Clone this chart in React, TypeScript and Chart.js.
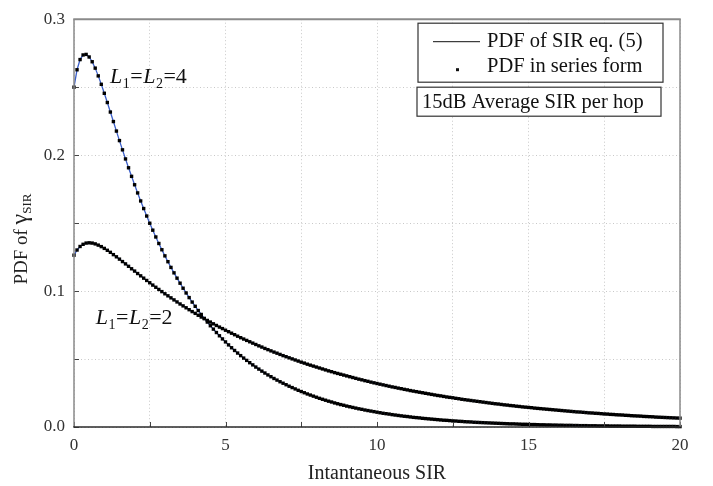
import React, { useEffect, useRef } from "react";
import { Chart, registerables } from "chart.js";

Chart.register(...registerables);

// ---- data ----
const X_START = 0;
const X_STEP = 0.1;

// PDF for L1=L2=4, sampled at x = 0, 0.1, ..., 20
const PDF_L4 = [
  0.2500, 0.2628, 0.2703, 0.2737, 0.2741, 0.2722, 0.2687, 0.2640, 0.2583, 0.2521,
  0.2455, 0.2387, 0.2317, 0.2247, 0.2177, 0.2107, 0.2039, 0.1972, 0.1907, 0.1844,
  0.1782, 0.1722, 0.1663, 0.1607, 0.1552, 0.1499, 0.1448, 0.1398, 0.1350, 0.1304,
  0.1259, 0.1216, 0.1174, 0.1134, 0.1095, 0.1058, 0.1021, 0.0986, 0.0952, 0.0919,
  0.0888, 0.0857, 0.0828, 0.0799, 0.0772, 0.0745, 0.0720, 0.0695, 0.0671, 0.0648,
  0.0626, 0.0604, 0.0583, 0.0563, 0.0544, 0.0525, 0.0507, 0.0490, 0.0473, 0.0457,
  0.0441, 0.0426, 0.0411, 0.0397, 0.0383, 0.0370, 0.0357, 0.0345, 0.0333, 0.0322,
  0.0311, 0.0300, 0.0290, 0.0280, 0.0270, 0.0261, 0.0252, 0.0243, 0.0235, 0.0227,
  0.0219, 0.0211, 0.0204, 0.0197, 0.0190, 0.0184, 0.0177, 0.0171, 0.0165, 0.0160,
  0.0154, 0.0149, 0.0144, 0.0139, 0.0134, 0.0130, 0.0125, 0.0121, 0.0117, 0.0113,
  0.0109, 0.0105, 0.0101, 0.0098, 0.0095, 0.0091, 0.0088, 0.0085, 0.0082, 0.0079,
  0.0077, 0.0074, 0.0071, 0.0069, 0.0067, 0.0064, 0.0062, 0.0060, 0.0058, 0.0056,
  0.0054, 0.0052, 0.0050, 0.0049, 0.0047, 0.0045, 0.0044, 0.0042, 0.0041, 0.0039,
  0.0038, 0.0037, 0.0035, 0.0034, 0.0033, 0.0032, 0.0031, 0.0030, 0.0029, 0.0028,
  0.0027, 0.0026, 0.0025, 0.0024, 0.0023, 0.0023, 0.0022, 0.0021, 0.0020, 0.0020,
  0.0019, 0.0018, 0.0018, 0.0017, 0.0016, 0.0016, 0.0015, 0.0015, 0.0014, 0.0014,
  0.0013, 0.0013, 0.0012, 0.0012, 0.0012, 0.0011, 0.0011, 0.0010, 0.0010, 0.0010,
  0.0009, 0.0009, 0.0009, 0.0008, 0.0008, 0.0008, 0.0008, 0.0007, 0.0007, 0.0007,
  0.0007, 0.0006, 0.0006, 0.0006, 0.0006, 0.0006, 0.0005, 0.0005, 0.0005, 0.0005,
  0.0005, 0.0004, 0.0004, 0.0004, 0.0004, 0.0004, 0.0004, 0.0004, 0.0004, 0.0003,
  0.0003,
];

// PDF for L1=L2=2, sampled at x = 0, 0.1, ..., 20
const PDF_L2 = [
  0.1264, 0.1302, 0.1328, 0.1344, 0.1353, 0.1355, 0.1353, 0.1347, 0.1338, 0.1327,
  0.1314, 0.1300, 0.1285, 0.1268, 0.1252, 0.1235, 0.1217, 0.1200, 0.1182, 0.1164,
  0.1147, 0.1129, 0.1112, 0.1095, 0.1078, 0.1061, 0.1044, 0.1028, 0.1012, 0.0996,
  0.0980, 0.0965, 0.0950, 0.0935, 0.0920, 0.0905, 0.0891, 0.0877, 0.0863, 0.0849,
  0.0836, 0.0822, 0.0809, 0.0797, 0.0784, 0.0772, 0.0759, 0.0747, 0.0735, 0.0724,
  0.0712, 0.0701, 0.0690, 0.0679, 0.0668, 0.0657, 0.0647, 0.0637, 0.0627, 0.0617,
  0.0607, 0.0597, 0.0588, 0.0578, 0.0569, 0.0560, 0.0551, 0.0543, 0.0534, 0.0525,
  0.0517, 0.0509, 0.0501, 0.0493, 0.0485, 0.0477, 0.0470, 0.0462, 0.0455, 0.0448,
  0.0441, 0.0434, 0.0427, 0.0420, 0.0413, 0.0407, 0.0400, 0.0394, 0.0388, 0.0382,
  0.0376, 0.0370, 0.0364, 0.0358, 0.0352, 0.0347, 0.0341, 0.0336, 0.0330, 0.0325,
  0.0320, 0.0315, 0.0310, 0.0305, 0.0300, 0.0295, 0.0291, 0.0286, 0.0282, 0.0277,
  0.0273, 0.0268, 0.0264, 0.0260, 0.0256, 0.0252, 0.0248, 0.0244, 0.0240, 0.0236,
  0.0232, 0.0229, 0.0225, 0.0221, 0.0218, 0.0215, 0.0211, 0.0208, 0.0204, 0.0201,
  0.0198, 0.0195, 0.0192, 0.0189, 0.0186, 0.0183, 0.0180, 0.0177, 0.0174, 0.0171,
  0.0169, 0.0166, 0.0163, 0.0161, 0.0158, 0.0156, 0.0153, 0.0151, 0.0148, 0.0146,
  0.0144, 0.0142, 0.0139, 0.0137, 0.0135, 0.0133, 0.0131, 0.0129, 0.0127, 0.0125,
  0.0123, 0.0121, 0.0119, 0.0117, 0.0115, 0.0113, 0.0111, 0.0110, 0.0108, 0.0106,
  0.0104, 0.0103, 0.0101, 0.0100, 0.0098, 0.0096, 0.0095, 0.0093, 0.0092, 0.0090,
  0.0089, 0.0088, 0.0086, 0.0085, 0.0083, 0.0082, 0.0081, 0.0080, 0.0078, 0.0077,
  0.0076, 0.0075, 0.0073, 0.0072, 0.0071, 0.0070, 0.0069, 0.0068, 0.0067, 0.0066,
  0.0065,
];

const X_MIN = 0;
const X_MAX = 20;
const Y_MIN = 0;
const Y_MAX = 0.3;
const X_GRID_STEP = 2.5;
const X_LABEL_STEP = 5;
const Y_GRID_STEP = 0.05;
const Y_LABEL_STEP = 0.1;

const X_TITLE = "Intantaneous SIR";
const Y_TITLE_PARTS = ["PDF of ", "γ", "SIR"];
const LEGEND_LABELS = ["PDF of SIR eq. (5)", "PDF in series form"];
const NOTE_TEXT = "15dB Average SIR per hop";

// curve annotations: L1=L2=n placed at data coordinates (left / baseline)
const CURVE_LABEL_N = ["4", "2"];
const CURVE_LABEL_X = [1.19, 0.72];
const CURVE_LABEL_Y = [0.253, 0.076];

const FONT = "'Liberation Serif', 'Times New Roman', serif";
const LINE_COLOR = "#3b5fc9";
const DOT_COLOR = "#000000";

function toPoints(values: number[]) {
  return values.map((y, i) => ({ x: Math.round((X_START + i * X_STEP) * 10) / 10, y }));
}

function isMultiple(v: number, step: number) {
  const r = v / step;
  return Math.abs(r - Math.round(r)) < 1e-6;
}

const decorPlugin = {
  id: "decor",
  afterDraw(chart: any) {
    const { ctx, chartArea: a, scales } = chart;
    const xs = scales.x;
    const ys = scales.y;
    ctx.save();

    // inside tick marks
    ctx.strokeStyle = "#444";
    ctx.lineWidth = 1;
    ctx.beginPath();
    xs.ticks.forEach((t: any) => {
      const px = Math.round(xs.getPixelForValue(t.value)) + 0.5;
      ctx.moveTo(px, a.bottom);
      ctx.lineTo(px, a.bottom - 5);
    });
    ys.ticks.forEach((t: any) => {
      const py = Math.round(ys.getPixelForValue(t.value)) + 0.5;
      ctx.moveTo(a.left, py);
      ctx.lineTo(a.left + 5, py);
    });
    ctx.stroke();

    // frame
    ctx.strokeStyle = "#8a8a8a";
    ctx.lineWidth = 1.5;
    ctx.beginPath();
    ctx.moveTo(a.left, a.bottom);
    ctx.lineTo(a.left, a.top);
    ctx.moveTo(a.right, a.top);
    ctx.lineTo(a.right, a.bottom);
    ctx.stroke();
    ctx.lineWidth = 2;
    ctx.beginPath();
    ctx.moveTo(a.left - 0.75, a.top);
    ctx.lineTo(a.right + 0.75, a.top);
    ctx.stroke();
    ctx.strokeStyle = "#2a2a2a";
    ctx.lineWidth = 1.5;
    ctx.beginPath();
    ctx.moveTo(a.left - 0.75, a.bottom);
    ctx.lineTo(a.right + 0.75, a.bottom);
    ctx.stroke();

    // legend box
    const boxRight = a.right - 17;
    const b1L = boxRight - 245;
    const b1T = a.top + 4;
    ctx.fillStyle = "#fff";
    ctx.fillRect(b1L, b1T, 245, 59);
    ctx.strokeStyle = "#333";
    ctx.lineWidth = 1.2;
    ctx.strokeRect(b1L, b1T, 245, 59);
    ctx.font = `20.5px ${FONT}`;
    ctx.fillStyle = "#111";
    ctx.textBaseline = "middle";
    ctx.textAlign = "left";
    // row 1: line
    ctx.strokeStyle = "#111";
    ctx.lineWidth = 1;
    ctx.beginPath();
    ctx.moveTo(b1L + 15, b1T + 18.5);
    ctx.lineTo(b1L + 62, b1T + 18.5);
    ctx.stroke();
    ctx.fillText(LEGEND_LABELS[0], b1L + 69, b1T + 18);
    // row 2: dot
    ctx.fillRect(b1L + 38, b1T + 45, 3, 3);
    ctx.fillText(LEGEND_LABELS[1], b1L + 69, b1T + 43);

    // note box
    const b2L = boxRight - 246;
    const b2T = a.top + 68;
    ctx.fillStyle = "#fff";
    ctx.fillRect(b2L, b2T, 244, 29);
    ctx.strokeStyle = "#333";
    ctx.lineWidth = 1.2;
    ctx.strokeRect(b2L, b2T, 244, 29);
    ctx.fillStyle = "#111";
    ctx.fillText(NOTE_TEXT, b2L + 5, b2T + 15);

    // curve labels
    ctx.textBaseline = "alphabetic";
    CURVE_LABEL_N.forEach((n, i) => {
      let x = xs.getPixelForValue(CURVE_LABEL_X[i]);
      const y = ys.getPixelForValue(CURVE_LABEL_Y[i]);
      const parts: [string, string, number][] = [
        ["L", `italic 22px ${FONT}`, 0],
        ["1", `14px ${FONT}`, 5],
        ["=", `22px ${FONT}`, 0],
        ["L", `italic 22px ${FONT}`, 0],
        ["2", `14px ${FONT}`, 5],
        ["=" + n, `22px ${FONT}`, 0],
      ];
      parts.forEach(([t, f, dy]) => {
        ctx.font = f;
        ctx.fillText(t, x, y + dy);
        x += ctx.measureText(t).width + 0.5;
      });
    });

    // y title with subscript
    const cy = (a.top + a.bottom) / 2 + 16;
    const cx = 21;
    ctx.translate(cx, cy);
    ctx.rotate(-Math.PI / 2);
    ctx.font = `19px ${FONT}`;
    const w1 = ctx.measureText(Y_TITLE_PARTS[0]).width;
    ctx.font = `24px ${FONT}`;
    const w2 = ctx.measureText(Y_TITLE_PARTS[1]).width;
    ctx.font = `13px ${FONT}`;
    const w3 = ctx.measureText(Y_TITLE_PARTS[2]).width;
    let u = -(w1 + w2 + w3) / 2;
    ctx.fillStyle = "#222";
    ctx.font = `19px ${FONT}`;
    ctx.fillText(Y_TITLE_PARTS[0], u, 6);
    u += w1;
    ctx.font = `24px ${FONT}`;
    ctx.fillText(Y_TITLE_PARTS[1], u, 6);
    u += w2;
    ctx.font = `13px ${FONT}`;
    ctx.fillText(Y_TITLE_PARTS[2], u, 10);

    ctx.restore();
  },
};

export default function App() {
  const ref = useRef<HTMLCanvasElement | null>(null);

  useEffect(() => {
    if (!ref.current) return;
    const ptsL4 = toPoints(PDF_L4);
    const ptsL2 = toPoints(PDF_L2);
    const dotStyle = {
      showLine: false,
      pointStyle: "rect",
      pointRadius: 2.4,
      pointBorderWidth: 0,
      pointBackgroundColor: DOT_COLOR,
      clip: false,
    };
    const lineStyle = {
      showLine: true,
      borderColor: LINE_COLOR,
      borderWidth: 1.3,
      pointRadius: 0,
      tension: 0,
    };
    const chart = new Chart(ref.current, {
      type: "scatter",
      data: {
        datasets: [
          { label: LEGEND_LABELS[1], data: ptsL4, ...dotStyle } as any,
          { label: LEGEND_LABELS[1], data: ptsL2, ...dotStyle } as any,
          { label: LEGEND_LABELS[0], data: ptsL4, ...lineStyle } as any,
          { label: LEGEND_LABELS[0], data: ptsL2, ...lineStyle } as any,
        ],
      },
      options: {
        responsive: false,
        animation: false,
        devicePixelRatio: 1,
        layout: { padding: { top: 11, right: 33, left: 0, bottom: 0 } },
        plugins: { legend: { display: false }, tooltip: { enabled: false } },
        events: [],
        scales: {
          x: {
            type: "linear",
            min: X_MIN,
            max: X_MAX,
            ticks: {
              stepSize: X_GRID_STEP,
              autoSkip: false,
              maxRotation: 0,
              padding: 8,
              color: "#333",
              font: { family: FONT, size: 17 },
              callback: (v: any) => (isMultiple(Number(v), X_LABEL_STEP) ? String(v) : ""),
            },
            grid: { color: "#c8c8c8", lineWidth: 1, drawTicks: false },
            border: { display: false, dash: [1, 2.5] },
            title: {
              display: true,
              text: X_TITLE,
              color: "#222",
              font: { family: FONT, size: 20 },
              padding: { top: 0, bottom: 0 },
            },
            afterFit: (s: any) => {
              s.height = 59;
            },
          },
          y: {
            type: "linear",
            min: Y_MIN,
            max: Y_MAX,
            ticks: {
              stepSize: Y_GRID_STEP,
              autoSkip: false,
              padding: 9,
              color: "#333",
              font: { family: FONT, size: 17 },
              callback: (v: any) =>
                isMultiple(Number(v), Y_LABEL_STEP) ? Number(v).toFixed(1) : "",
            },
            grid: { color: "#c8c8c8", lineWidth: 1, drawTicks: false },
            border: { display: false, dash: [1, 2.5] },
            afterFit: (s: any) => {
              s.width = 74;
            },
          },
        },
      } as any,
      plugins: [decorPlugin],
    });
    return () => chart.destroy();
  }, []);

  return (
    <div style={{ position: "absolute", left: 0, top: 0, width: 713, height: 486, background: "#fff" }}>
      <canvas ref={ref} width={713} height={486} style={{ display: "block" }} />
    </div>
  );
}
